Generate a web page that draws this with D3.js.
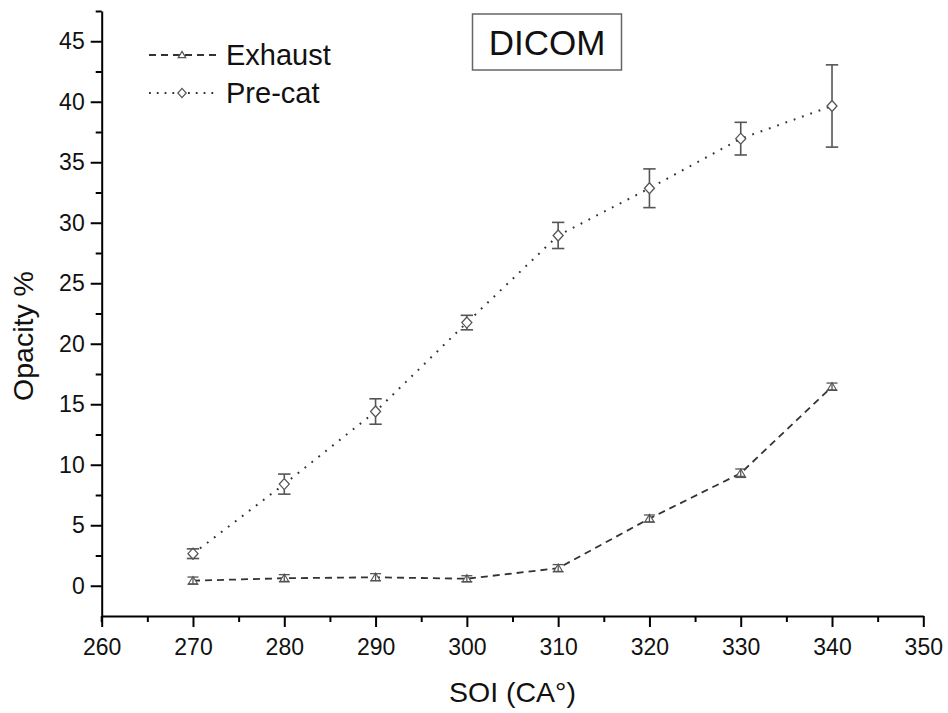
<!DOCTYPE html>
<html>
<head>
<meta charset="utf-8">
<script src="https://cdn.jsdelivr.net/npm/d3@7"></script>
<style>
  html, body { margin: 0; padding: 0; background: #fff; }
  svg { display: block; font-family: "Liberation Sans", Arial, sans-serif; }
</style>
</head>
<body>
<svg id="chart" width="948" height="713"></svg>
<script>
// ---- data ----
const soi = [270, 280, 290, 300, 310, 320, 330, 340];
const exhaust = [0.42, 0.62, 0.70, 0.58, 1.45, 5.55, 9.3, 16.45];
const exhaustErr = [0.3, 0.3, 0.3, 0.25, 0.3, 0.3, 0.35, 0.3];
const precat = [2.65, 8.4, 14.4, 21.75, 28.95, 32.85, 36.95, 39.65];
const precatErr = [0.4, 0.83, 1.05, 0.6, 1.08, 1.6, 1.35, 3.4];
const xTicks = [260, 270, 280, 290, 300, 310, 320, 330, 340, 350];
const yTicks = [0, 5, 10, 15, 20, 25, 30, 35, 40, 45];
const seriesNames = ["Exhaust", "Pre-cat"];
const titleText = "DICOM";
const xTitle = "SOI (CA\u00B0)";
const yTitle = "Opacity %";

// ---- scales ----
const svg = d3.select("#chart");
const x = d3.scaleLinear().domain([260, 350]).range([101.7, 923.3]);
const y = d3.scaleLinear().domain([-2.5, 47.5]).range([616, 11]);

const axisColor = "#000";
const lineColor = "#333";
const markColor = "#555";

// ---- axes ----
const xAxis = d3.axisBottom(x).tickValues(xTicks).tickSizeInner(11).tickSizeOuter(0).tickPadding(4);
const gx = svg.append("g").attr("transform", `translate(0,${y.range()[0]})`).call(xAxis);
const xMinor = d3.axisBottom(x).tickValues(d3.range(265, 350, 10)).tickSize(6).tickFormat("");
svg.append("g").attr("transform", `translate(0,${y.range()[0]})`).call(xMinor).select(".domain").remove();

const yAxis = d3.axisLeft(y).tickValues(yTicks).tickSizeInner(11).tickSizeOuter(0).tickPadding(6);
const gy = svg.append("g").attr("transform", `translate(${x.range()[0]},0)`).call(yAxis);
const yMinor = d3.axisLeft(y).tickValues(d3.range(2.5, 48, 5)).tickSize(6).tickFormat("");
svg.append("g").attr("transform", `translate(${x.range()[0]},0)`).call(yMinor).select(".domain").remove();

svg.selectAll(".domain").attr("stroke", axisColor).attr("stroke-width", 2);
svg.selectAll(".tick line").attr("stroke", axisColor).attr("stroke-width", 2);
svg.selectAll(".tick text").attr("font-size", 23).attr("fill", "#111")
   .attr("font-family", "'Liberation Sans', Arial, sans-serif");
gx.selectAll(".tick text").attr("dy", "1.05em");

// extend corner so axes meet
svg.append("line").attr("x1", x.range()[0]).attr("x2", x.range()[0])
  .attr("y1", y.range()[0]).attr("y2", y.range()[0] + 6)
  .attr("stroke", axisColor).attr("stroke-width", 2);

// ---- axis titles ----
svg.append("text").attr("x", (x.range()[0] + x.range()[1]) / 2).attr("y", 702)
  .attr("text-anchor", "middle").attr("font-size", 28.5).attr("fill", "#111").text(xTitle);
svg.append("text").attr("transform", "translate(33,336) rotate(-90)")
  .attr("text-anchor", "middle").attr("font-size", 28.5).attr("fill", "#111").text(yTitle);

// ---- marker shapes ----
const diamond = (r) => `M0,${-r * 1.1}L${r},0L0,${r * 1.1}L${-r},0Z`;
const triangle = (r) => `M0,${-r}L${r * 1.05},${r * 0.75}L${-r * 1.05},${r * 0.75}Z`;

// ---- lines ----
const line = d3.line().x((d, i) => x(soi[i])).y(d => y(d));
svg.append("path").datum(exhaust).attr("d", line)
  .attr("fill", "none").attr("stroke", lineColor).attr("stroke-width", 1.8)
  .attr("stroke-dasharray", "7,5");
svg.append("path").datum(precat).attr("d", line)
  .attr("fill", "none").attr("stroke", lineColor).attr("stroke-width", 2)
  .attr("stroke-dasharray", "1.8,7").attr("stroke-linecap", "butt");

// ---- markers ----
function drawMarkers(vals, shape, r, sw) {
  svg.append("g").selectAll("path").data(vals).join("path")
    .attr("transform", (d, i) => `translate(${x(soi[i])},${y(d)})`)
    .attr("d", shape(r)).attr("fill", "#fff").attr("stroke", markColor).attr("stroke-width", sw);
}
drawMarkers(precat, diamond, 5, 1.3);
drawMarkers(exhaust, triangle, 4.2, 1.1);

// ---- error bars ----
function drawErr(vals, errs, gap, cap, sw) {
  const g = svg.append("g").attr("stroke", markColor).attr("stroke-width", sw).attr("fill", "none");
  vals.forEach((v, i) => {
    const cx = x(soi[i]);
    const top = y(v + errs[i]), bot = y(v - errs[i]), c = y(v);
    if (gap > 0) {
      if (c - top > gap) g.append("line").attr("x1", cx).attr("x2", cx).attr("y1", top).attr("y2", c - gap);
      if (bot - c > gap) g.append("line").attr("x1", cx).attr("x2", cx).attr("y1", c + gap).attr("y2", bot);
    } else {
      g.append("line").attr("x1", cx).attr("x2", cx).attr("y1", top).attr("y2", bot);
    }
    g.append("line").attr("x1", cx - cap).attr("x2", cx + cap).attr("y1", top).attr("y2", top);
    g.append("line").attr("x1", cx - cap).attr("x2", cx + cap).attr("y1", bot).attr("y2", bot);
  });
}
drawErr(precat, precatErr, 5.5, 6.2, 1.6);
drawErr(exhaust, exhaustErr, 0, 5.5, 1.3);

// ---- legend ----
const legend = svg.append("g");
const legRows = [
  { name: seriesNames[0], y: 55, dash: "7,5", sw: 1.8, shape: triangle(3.6) },
  { name: seriesNames[1], y: 93, dash: "1.8,6", sw: 2, shape: diamond(4.2) }
];
legRows.forEach(r => {
  legend.append("line").attr("x1", 149).attr("x2", 217).attr("y1", r.y).attr("y2", r.y)
    .attr("stroke", lineColor).attr("stroke-width", r.sw).attr("stroke-dasharray", r.dash);
  legend.append("path").attr("transform", `translate(182,${r.y})`).attr("d", r.shape)
    .attr("fill", "#fff").attr("stroke", markColor).attr("stroke-width", 1.2);
  legend.append("text").attr("x", 226).attr("y", r.y).attr("dy", "0.36em")
    .attr("font-size", 29).attr("fill", "#111").text(r.name);
});

// ---- title box ----
svg.append("rect").attr("x", 472.5).attr("y", 14).attr("width", 149).attr("height", 56)
  .attr("fill", "#fff").attr("stroke", "#666").attr("stroke-width", 1.5);
svg.append("text").attr("x", 547).attr("y", 42).attr("dy", "0.36em")
  .attr("text-anchor", "middle").attr("font-size", 35).attr("fill", "#111").text(titleText);
</script>
</body>
</html>
